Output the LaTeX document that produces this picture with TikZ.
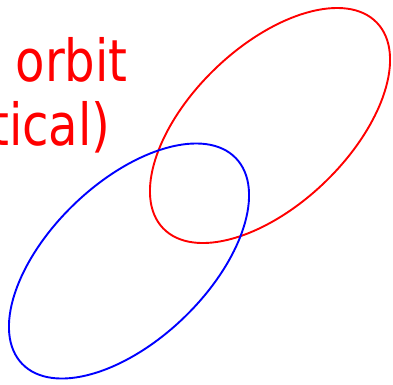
\documentclass[tikz,border=0pt]{standalone}
\usepackage{fontspec}
\setmainfont{DejaVu Sans}
\begin{document}
\begin{tikzpicture}[x=1pt,y=-1pt,
  orbitline/.style={line width=1.9pt},
  label/.style={text=red, font=\fontsize{58}{64}\selectfont, inner sep=0pt, anchor=base west, xscale=0.83}]
\useasboundingbox (0,0) rectangle (393,384);
\clip (0,0) rectangle (393,384);
\node[label] (t1) at (15.5,81) {orbit};
\node[label] (t2) at (-10,145) {tical)};
\draw[orbitline, red] (270,125.5) ellipse[x radius=148.3, y radius=78.9, rotate=43.9];
\draw[orbitline, blue] (129,261) ellipse[x radius=148.3, y radius=78.9, rotate=43.9];
\end{tikzpicture}
\end{document}
